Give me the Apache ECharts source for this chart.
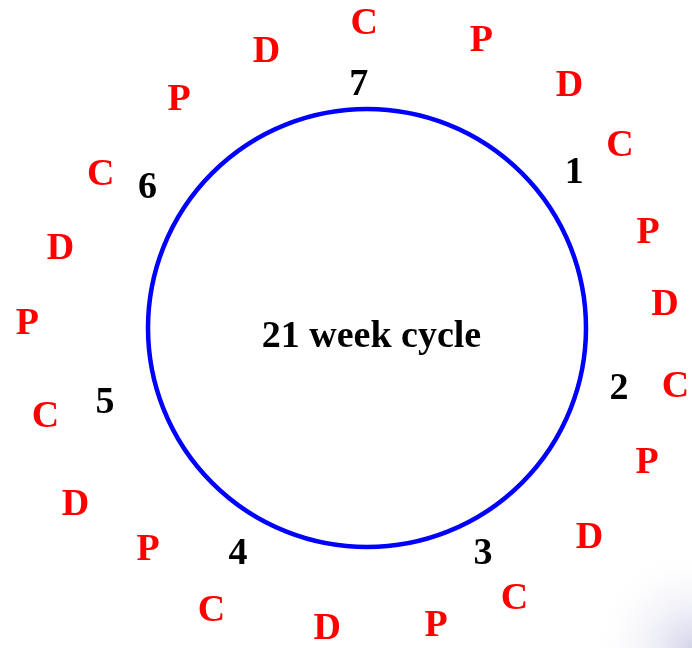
<!DOCTYPE html>
<html>
<head>
<meta charset="utf-8">
<script src="https://cdn.jsdelivr.net/npm/echarts@6/dist/echarts.min.js"></script>
<style>
html,body{margin:0;padding:0;background:#fff;}
#chart{width:692px;height:648px;}
</style>
</head>
<body>
<div id="chart"></div>
<script>
// Phase letters around the 21-week cycle (clockwise from the top)
const phaseLetters = ['C','P','D','C','P','D','C','P','D','C','P','D','C','P','D','C','P','D','C','P','D'];
// angle in degrees, clockwise from top
const phaseAngles = [359.5, 21.5, 39.6, 53.8, 70.8, 85.1, 100.3, 115.2, 133.0, 151.2, 166.8,
                     187.6, 209.0, 225.0, 239.2, 255.0, 271.2, 285.0, 300.3, 320.9, 340.2];
// distance from cycle centre
const phaseRadii = [306.5, 311.8, 317.5, 313.4, 297.6, 299.1, 313.5, 309.6, 304.2, 306.3, 303.0,
                    301.2, 320.7, 309.7, 339.5, 332.8, 339.6, 317.3, 308.5, 297.8, 296.5];

// cycle step numbers
const stepLabels = ['7','1','2','3','4','5','6'];
const stepAngles = [358.1, 52.7, 102.9, 152.6, 210.0, 254.6, 303.0];
const stepRadii  = [245.6, 260.4, 258.5, 251.8, 258.1, 271.7, 261.7];

const centreText = '21 week cycle';

const chart = echarts.init(document.getElementById('chart'), null, {renderer:'canvas'});
const serif = "'Liberation Serif', 'Times New Roman', serif";

const letterData = phaseLetters.map((l, i) => ({name: l, value: [phaseRadii[i], phaseAngles[i]]}));
const stepData = stepLabels.map((l, i) => ({name: l, value: [stepRadii[i], stepAngles[i]]}));

const hiddenAngle = (idx) => ({
  polarIndex: idx, type: 'value', min: 0, max: 360, startAngle: 90, clockwise: true,
  axisLine: {show: idx === 0, lineStyle: {color: '#0000ff', width: 4.5}},
  axisTick: {show: false}, axisLabel: {show: false}, splitLine: {show: false}
});
const hiddenRadius = (idx, max) => ({
  polarIndex: idx, type: 'value', min: 0, max: max, show: false,
  axisLine: {show: false}, axisTick: {show: false}, axisLabel: {show: false}, splitLine: {show: false}
});

const labelStyle = (color) => ({
  show: true, position: 'inside', formatter: p => p.name, offset: [0, 3],
  color: color, opacity: 1, fontFamily: serif, fontWeight: 'bold', fontSize: 38
});

chart.setOption({
  animation: false,
  backgroundColor: '#ffffff',
  graphic: [
    {
      type: 'rect', silent: true, z: -10,
      shape: {x: 572, y: 548, width: 120, height: 100},
      style: {
        fill: new echarts.graphic.RadialGradient(1, 1, 1, [
          {offset: 0, color: 'rgba(205,205,230,0.85)'},
          {offset: 0.5, color: 'rgba(232,232,244,0.45)'},
          {offset: 1, color: 'rgba(255,255,255,0)'}
        ])
      }
    },
    {
      type: 'text', x: 371.5, y: 337, z: 10,
      style: {
        text: centreText, align: 'center', verticalAlign: 'middle',
        font: "bold 38px " + serif, fill: '#000000'
      }
    }
  ],
  polar: [
    {center: [367, 328], radius: 219},
    {center: [367, 328], radius: 360}
  ],
  angleAxis: [hiddenAngle(0), hiddenAngle(1)],
  radiusAxis: [hiddenRadius(0, 1), hiddenRadius(1, 360)],
  series: [
    {
      type: 'scatter', coordinateSystem: 'polar', polarIndex: 1,
      symbolSize: 0, itemStyle: {opacity: 1}, data: letterData,
      label: labelStyle('#ff0000')
    },
    {
      type: 'scatter', coordinateSystem: 'polar', polarIndex: 1,
      symbolSize: 0, itemStyle: {opacity: 1}, data: stepData,
      label: labelStyle('#000000')
    }
  ]
});
</script>
</body>
</html>
